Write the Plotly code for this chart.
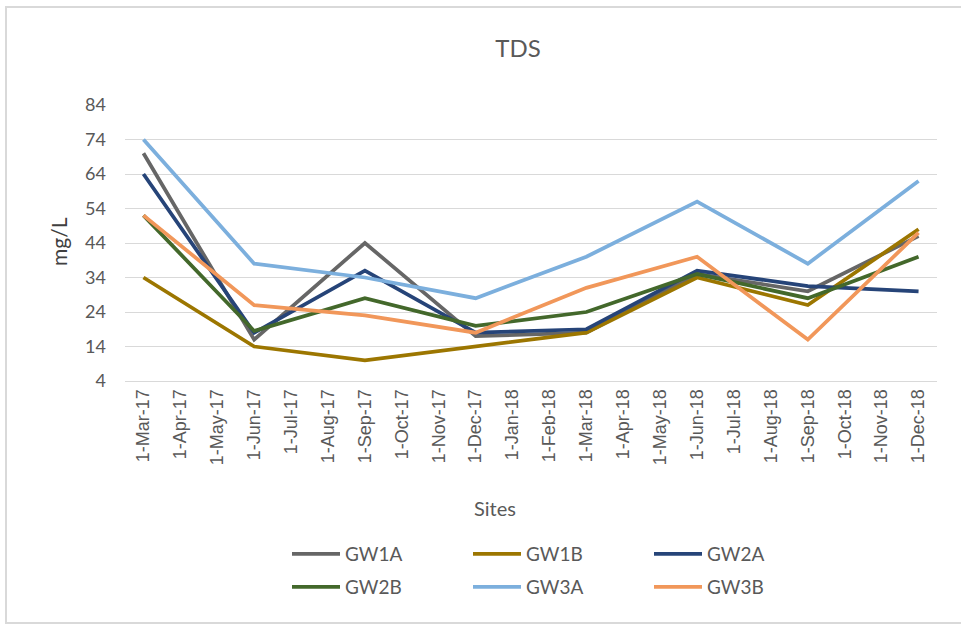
import plotly.graph_objects as go

# ---- data ----
months = ["1-Mar-17", "1-Apr-17", "1-May-17", "1-Jun-17", "1-Jul-17", "1-Aug-17",
          "1-Sep-17", "1-Oct-17", "1-Nov-17", "1-Dec-17", "1-Jan-18", "1-Feb-18",
          "1-Mar-18", "1-Apr-18", "1-May-18", "1-Jun-18", "1-Jul-18", "1-Aug-18",
          "1-Sep-18", "1-Oct-18", "1-Nov-18", "1-Dec-18"]
sample_dates = ["1-Mar-17", "1-Jun-17", "1-Sep-17", "1-Dec-17",
                "1-Mar-18", "1-Jun-18", "1-Sep-18", "1-Dec-18"]
GW1A = [70, 16, 44, 17, 18, 35, 30, 46]
GW1B = [34, 14, 10, 14, 18, 34, 26, 48]
GW2A = [64, 18, 36, 18, 19, 36, 31.5, 30]
GW2B = [52, 18.5, 28, 20, 24, 35, 28, 40]
GW3A = [74, 38, 34, 28, 40, 56, 38, 62]
GW3B = [52, 26, 23, 18, 31, 40, 16, 47]
y_ticks = [4, 14, 24, 34, 44, 54, 64, 74, 84]

series = [
    ("GW1A", GW1A, "#666666", "legend"),
    ("GW1B", GW1B, "#9C7600", "legend"),
    ("GW2A", GW2A, "#264478", "legend"),
    ("GW2B", GW2B, "#43682B", "legend2"),
    ("GW3A", GW3A, "#7CAFDD", "legend2"),
    ("GW3B", GW3B, "#F1975A", "legend2"),
]

W, H = 961, 625
L, R, T, B = 125, 24, 105, 244
pw, ph = W - L - R, H - T - B

def px_x(p):
    return (p - L) / pw

def px_y(p):
    return (H - B - p) / ph

fig = go.Figure()
for name, vals, color, lg in series:
    fig.add_trace(go.Scatter(
        x=sample_dates, y=vals, name=name, mode="lines",
        line=dict(color=color, width=3.75), legend=lg,
    ))

calibri = "Lato, 'Open Sans', sans-serif"
gray = "#595959"

legend_common = dict(
    orientation="h", xanchor="left", yanchor="middle",
    entrywidth=118, entrywidthmode="pixels",
    font=dict(family=calibri, size=19, color=gray),
    bgcolor="rgba(0,0,0,0)", itemwidth=48,
)

fig.update_layout(
    width=W, height=H,
    margin=dict(l=L, r=R, t=T, b=B, autoexpand=False),
    paper_bgcolor="white", plot_bgcolor="white",
    title=dict(text="TDS", x=518 / W, xref="container", xanchor="center",
               y=1 - 49 / H, yref="container", yanchor="middle",
               font=dict(family=calibri, size=24, color=gray)),
    xaxis=dict(type="category", categoryorder="array", categoryarray=months,
               tickvals=months, ticktext=months,
               range=[-0.5, len(months) - 0.5], tickangle=-90,
               showgrid=False, showline=True, linecolor="#d9d9d9", linewidth=1,
               ticks="", automargin=False,
               tickfont=dict(family="Liberation Sans, Arial, sans-serif", size=18, color=gray)),
    yaxis=dict(range=[4, 84], tickvals=y_ticks, showgrid=True, gridcolor="#d9d9d9",
               gridwidth=1, zeroline=False, showline=False, ticks="", automargin=False,
               ticklabelstandoff=18,
               tickfont=dict(family=calibri, size=18, color=gray)),
    legend=dict(x=px_x(287), y=px_y(554), **legend_common),
    legend2=dict(x=px_x(287), y=px_y(587), **legend_common),
    showlegend=True,
)

fig.add_annotation(text="mg/L", xref="paper", yref="paper", x=px_x(58), y=px_y(242),
                   textangle=-90, showarrow=False, xanchor="center", yanchor="middle",
                   font=dict(family=calibri, size=21, color="#404040"))
fig.add_annotation(text="Sites", xref="paper", yref="paper", x=px_x(495), y=px_y(508),
                   showarrow=False, xanchor="center", yanchor="middle",
                   font=dict(family=calibri, size=20, color=gray))

# chart-area border
fig.add_shape(type="rect", xref="paper", yref="paper",
              x0=px_x(6), x1=px_x(965), y0=px_y(623), y1=px_y(7),
              line=dict(color="#d9d9d9", width=2), fillcolor="rgba(0,0,0,0)", layer="below")

fig.write_html("out.html", config={"displayModeBar": False},
               post_script="document.body.style.margin='0';")
